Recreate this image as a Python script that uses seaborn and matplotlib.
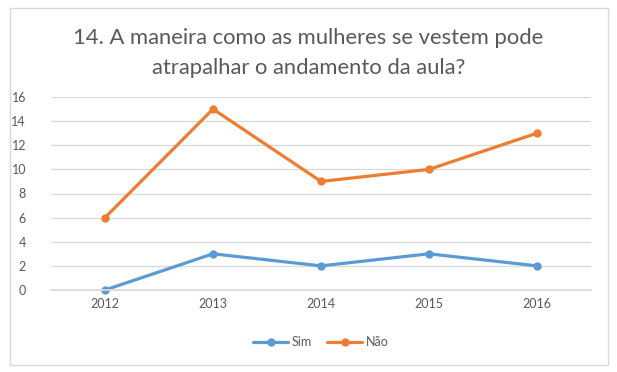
import matplotlib
matplotlib.use("Agg")
import matplotlib.pyplot as plt
import seaborn as sns
import pandas as pd
from matplotlib.patches import Rectangle

years = ["2012", "2013", "2014", "2015", "2016"]
sim = [0, 3, 2, 3, 2]
nao = [6, 15, 9, 10, 13]
series_names = ["Sim", "Não"]
title = "14. A maneira como as mulheres se vestem pode\natrapalhar o andamento da aula?"

df = pd.DataFrame({
    "ano": years * 2,
    "valor": sim + nao,
    "serie": [series_names[0]] * len(years) + [series_names[1]] * len(years),
})

sns.set_theme(style="white")
plt.rcParams["font.family"] = ["Lato", "DejaVu Sans"]

fig = plt.figure(figsize=(6.17, 3.72), dpi=100)
ax = fig.add_axes([51 / 617, 1 - 290 / 372, (591 - 51) / 617, (290 - 97) / 372])

palette = {"Sim": "#5B9BD5", "Não": "#ED7D31"}
sns.lineplot(data=df, x="ano", y="valor", hue="serie", palette=palette,
             marker="o", markersize=6, markeredgewidth=0, linewidth=2.3,
             ax=ax, sort=False)
for ln in ax.lines:
    ln.set_clip_on(False)

ax.set_xlim(-0.5, len(years) - 0.5)
ax.set_ylim(0, 16)
ax.set_yticks(range(0, 17, 2))
ax.grid(axis="y", color="#D9D9D9", linewidth=0.9)
ax.set_axisbelow(True)
for s in ["top", "right", "left"]:
    ax.spines[s].set_visible(False)
ax.spines["bottom"].set_color("#D9D9D9")
ax.tick_params(axis="both", length=0, labelsize=9, colors="#595959", pad=6)
ax.tick_params(axis="y", pad=18)
ax.set_xlabel("")
ax.set_ylabel("")

leg = ax.legend(loc="upper center", bbox_to_anchor=(0.5, -0.18), ncol=2,
                frameon=False, fontsize=9, handlelength=2.8, columnspacing=1.2,
                handletextpad=0.3, labelcolor="#595959")

fig.text(0.5, 0.857, title, ha="center", va="center", fontsize=15.8,
         color="#595959", linespacing=1.6)

fig.patches.append(Rectangle((10 / 617, 1 - 365 / 372), 598 / 617, 357 / 372,
                             transform=fig.transFigure, fill=False,
                             edgecolor="#D9D9D9", linewidth=1))

fig.savefig("out.png", dpi=100, facecolor="white")
